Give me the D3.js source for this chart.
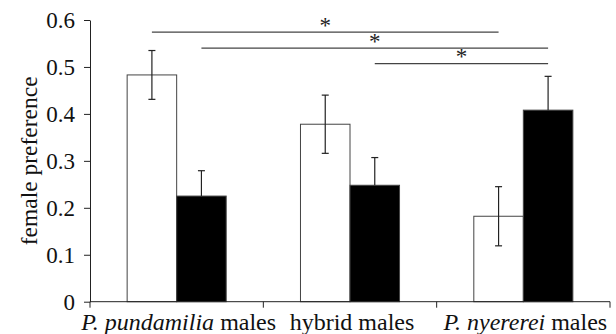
<!DOCTYPE html>
<html lang="en">
<head>
    <meta charset="UTF-8">
    <title>Female preference</title>
    <script src="https://d3js.org/d3.v7.min.js"></script>
    <style>
        body { margin: 0; background: #fff; }
        text { font-family: "Liberation Serif", "Times New Roman", serif; }
    </style>
</head>
<body>

<svg id="chart" width="616" height="334"></svg>

<script>
// male groups along the x axis
const groups = ["pundamilia", "hybrid", "nyererei"];
const groupLabels = [
    [{ t: "P. pundamilia", it: true }, { t: " males", it: false }],
    [{ t: "hybrid males", it: false }],
    [{ t: "P. nyererei", it: true }, { t: " males", it: false }]
];

// two bars per group: white (open) and black (filled)
const bars = ["open", "filled"];
const openMeans  = [0.483, 0.378, 0.182];
const openErr    = [0.052, 0.062, 0.063];
const filledMeans = [0.225, 0.248, 0.408];
const filledErr   = [0.054, 0.059, 0.072];

const yTicks = [0, 0.1, 0.2, 0.3, 0.4, 0.5, 0.6];

// significance brackets: [group, bar] -> [group, bar], at height in data units
const comparisons = [
    { from: [0, "open"],   to: [2, "open"],   y: 0.574 },
    { from: [0, "filled"], to: [2, "filled"], y: 0.540 },
    { from: [1, "filled"], to: [2, "filled"], y: 0.507 }
];

const svg = d3.select("#chart");
const mLeft = 90, mRight = 610, mTop = 20, mBottom = 301.7;

const x = d3.scaleBand().domain(groups).range([mLeft, mRight]).padding(0);
const xInner = d3.scaleBand().domain(bars).range([0, x.bandwidth()]).paddingInner(0).paddingOuter(0.75);
const y = d3.scaleLinear().domain([0, 0.6]).range([mBottom, mTop]);

const data = [];
groups.forEach((g, i) => {
    data.push({ g, bar: "open", v: openMeans[i], e: openErr[i] });
    data.push({ g, bar: "filled", v: filledMeans[i], e: filledErr[i] });
});

// bars
svg.append("g").selectAll("rect")
    .data(data)
    .join("rect")
    .attr("x", d => x(d.g) + xInner(d.bar))
    .attr("y", d => y(d.v))
    .attr("width", xInner.bandwidth())
    .attr("height", d => y(0) - y(d.v))
    .attr("fill", d => d.bar === "open" ? "#fff" : "#000")
    .attr("stroke", "#444")
    .attr("stroke-width", 1);

// error bars (filled bars only show the upper half)
const cx = d => x(d.g) + xInner(d.bar) + xInner.bandwidth() / 2;
const eb = svg.append("g").attr("stroke", "#222").attr("stroke-width", 1.2);
eb.selectAll("line.v").data(data).join("line").attr("class", "v")
    .attr("x1", cx).attr("x2", cx)
    .attr("y1", d => y(d.v + d.e))
    .attr("y2", d => d.bar === "open" ? y(d.v - d.e) : y(d.v));
eb.selectAll("line.t").data(data).join("line").attr("class", "t")
    .attr("x1", d => cx(d) - 3.5).attr("x2", d => cx(d) + 3.5)
    .attr("y1", d => y(d.v + d.e)).attr("y2", d => y(d.v + d.e));
eb.selectAll("line.b").data(data.filter(d => d.bar === "open")).join("line").attr("class", "b")
    .attr("x1", d => cx(d) - 3.5).attr("x2", d => cx(d) + 3.5)
    .attr("y1", d => y(d.v - d.e)).attr("y2", d => y(d.v - d.e));

// y axis
const yAxis = svg.append("g")
    .attr("transform", `translate(${mLeft},0)`)
    .call(d3.axisLeft(y).tickValues(yTicks)
        .tickFormat(d => d === 0 ? "0" : d.toFixed(1))
        .tickSize(6).tickSizeOuter(0).tickPadding(9));
yAxis.selectAll("text").attr("font-size", 23).attr("fill", "#111")
    .style("font-family", '"Liberation Serif", serif');
yAxis.selectAll("line, path").attr("stroke", "#222");

// x axis: baseline with ticks at the group boundaries
const xa = svg.append("g").attr("stroke", "#222");
xa.append("line").attr("x1", mLeft).attr("x2", mRight).attr("y1", mBottom).attr("y2", mBottom);
const bounds = [x(groups[0])].concat(groups.map(g => x(g) + x.bandwidth()));
xa.selectAll("line.tick").data(bounds).join("line").attr("class", "tick")
    .attr("x1", d => d).attr("x2", d => d)
    .attr("y1", mBottom).attr("y2", mBottom + 6);

svg.append("g").selectAll("text")
    .data(groups)
    .join("text")
    .attr("x", d => x(d) + x.bandwidth() / 2 + 2)
    .attr("y", 330)
    .attr("text-anchor", "middle")
    .attr("font-size", 24)
    .attr("fill", "#111")
    .each(function (d, i) {
        d3.select(this).selectAll("tspan")
            .data(groupLabels[i])
            .join("tspan")
            .attr("font-style", p => p.it ? "italic" : "normal")
            .text(p => p.t);
    });

// y axis title
svg.append("text")
    .attr("transform", `translate(37,${(mTop + mBottom) / 2}) rotate(-90)`)
    .attr("text-anchor", "middle")
    .attr("font-size", 23.5)
    .attr("fill", "#111")
    .text("female preference");

// significance lines
const px = ([gi, b]) => x(groups[gi]) + xInner(b) + xInner.bandwidth() / 2;
const sig = svg.append("g");
sig.selectAll("line").data(comparisons).join("line")
    .attr("x1", d => px(d.from)).attr("x2", d => px(d.to))
    .attr("y1", d => y(d.y)).attr("y2", d => y(d.y))
    .attr("stroke", "#444").attr("stroke-width", 1.3);
sig.selectAll("text").data(comparisons).join("text")
    .attr("x", d => (px(d.from) + px(d.to)) / 2)
    .attr("y", d => y(d.y) + 0.5)
    .attr("text-anchor", "middle")
    .attr("font-size", 23)
    .attr("fill", "#222")
    .text("*");
</script>

</body>
</html>
